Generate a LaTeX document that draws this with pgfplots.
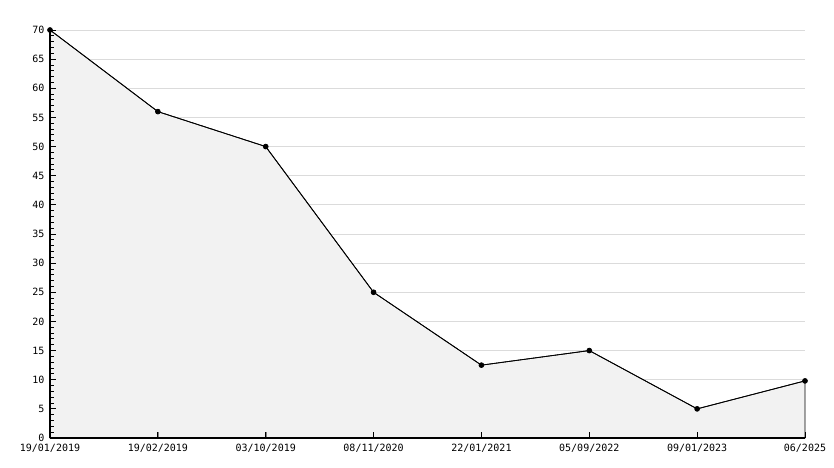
\documentclass[border=0pt]{standalone}
\usepackage{fontspec}
\setmainfont{DejaVu Sans Mono}
\usepackage{pgfplots}
\pgfplotsset{compat=1.18}

\pgfplotsset{base/.style={
  scale only axis, width=755bp, height=408bp,
  xmin=0, xmax=7, ymin=0, ymax=70,
  xtick={0,...,7}, ytick={0,5,...,70},
  clip=false,
}}

\begin{document}
\begin{tikzpicture}
% grid and data
\begin{axis}[base,
  axis line style={draw=none}, tick style={draw=none},
  ymajorgrids, major grid style={draw=black!14, line width=0.8bp},
  xticklabels={}, yticklabels={},
]
\addplot[fill=black!5, draw=black, line width=0.8bp] coordinates {
  (0,70) (1,56) (2,50) (3,25) (4,12.5) (5,15) (6,5) (7,9.8)
} \closedcycle;
\addplot[black, line width=0.8bp, mark=*, mark size=2.4bp,
  mark options={fill=black}] coordinates {
  (0,70) (1,56) (2,50) (3,25) (4,12.5) (5,15) (6,5) (7,9.8)
};
\end{axis}
% axes, ticks and labels on top
\begin{axis}[base,
  axis x line=bottom, axis y line=left,
  axis line style={-, line width=1.3bp},
  xticklabels={19/01/2019,19/02/2019,03/10/2019,08/11/2020,22/01/2021,05/09/2022,09/01/2023,06/2025},
  minor y tick num=4,
  ytick style={draw=black, line width=0.9bp},
  major tick length=6bp, minor tick length=4bp,
  tick align=inside,
  tick label style={font=\fontsize{10bp}{11bp}\selectfont},
  /pgf/number format/assume math mode=true,
  yticklabel style={xshift=-2bp},
  xticklabel style={yshift=-3bp},
]
\pgfplotsinvokeforeach{1,...,7}{
  \draw[black, line width=0.9bp] (axis cs:#1,0) -- ++(0,6bp);
}
\end{axis}
\path ([shift={(-50bp,-30bp)}]current axis.south west) rectangle ([shift={(29bp,30bp)}]current axis.north east);
\end{tikzpicture}
\end{document}
